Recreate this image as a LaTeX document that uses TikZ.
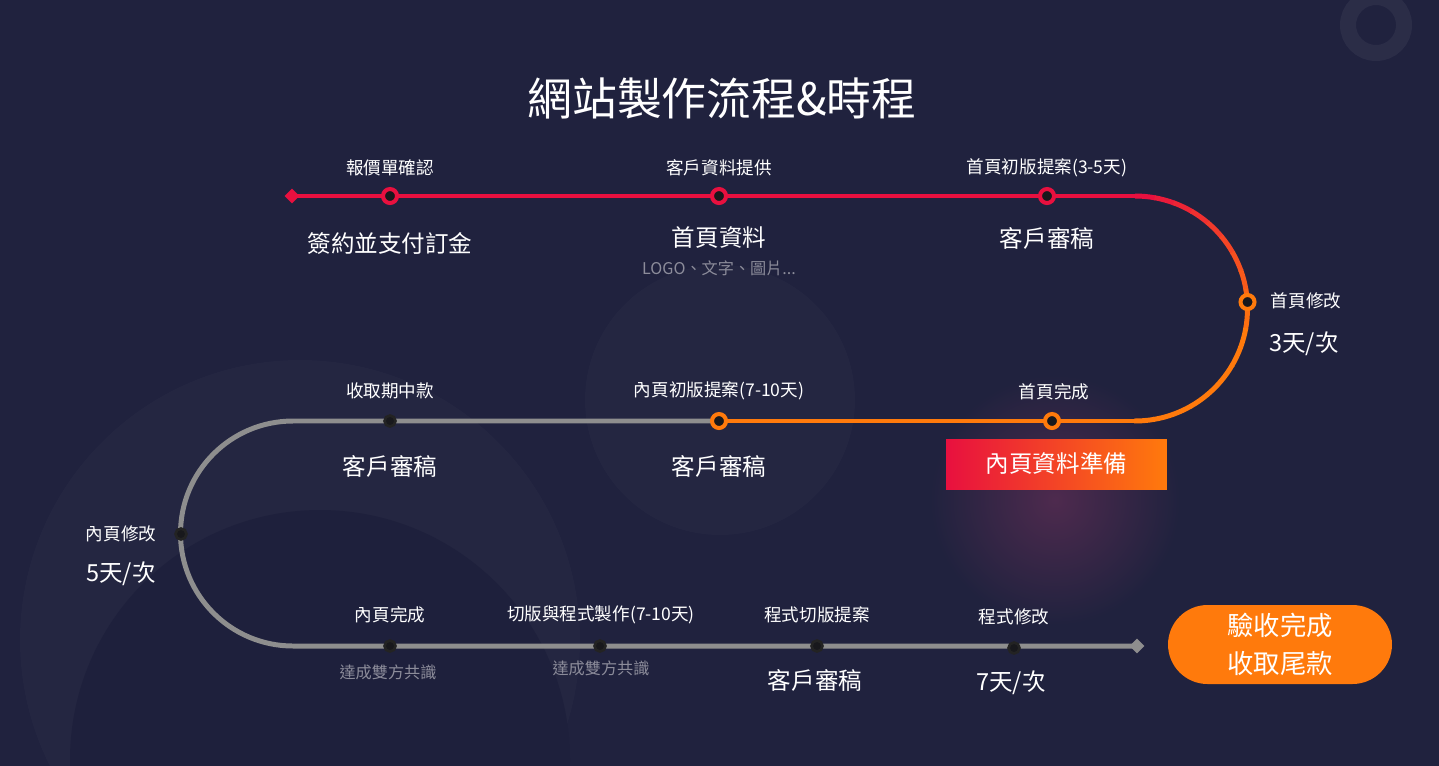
\documentclass[tikz,border=0pt]{standalone}
\usepackage{fontspec}
\setmainfont{Noto Sans CJK TC}
\usetikzlibrary{shapes.geometric}
\definecolor{bgnavy}{HTML}{20223E}
\definecolor{bgdeep}{HTML}{1E203C}
\definecolor{trackred}{HTML}{E8103F}
\definecolor{trackorange}{HTML}{FF7A0C}
\definecolor{trackgray}{HTML}{8E8E8E}
\definecolor{dotdark}{HTML}{18181C}
\definecolor{softgray}{HTML}{8C8C9A}
\definecolor{glowpink}{HTML}{4E2A4E}
\tikzset{
  steplabel/.style={text=white, font=\fontsize{10}{12}\selectfont},
  bignote/.style={text=white, font=\fontsize{13.4}{16}\selectfont},
  smallnote/.style={text=softgray, font=\fontsize{9.2}{11}\selectfont},
  hotdot/.style={circle, fill=dotdark, draw=#1, line width=2.3pt, minimum size=0.28cm, inner sep=0pt},
  colddot/.style={circle, fill=dotdark, draw=black!75!trackgray, line width=1.5pt, minimum size=0.22cm, inner sep=0pt},
  track/.style={line width=2.83pt},
  tip/.style={diamond, fill=#1, minimum size=0.3cm, inner sep=0pt},
}
\begin{document}
\begin{tikzpicture}[x=0.02cm, y=0.02cm]
% background
\useasboundingbox (0,0) rectangle (1439,-765);
\fill[bgnavy] (-20,20) rectangle (1460,-800);
\fill[white, opacity=0.02] (300,-640) circle (280);
\fill[bgdeep] (320,-760) circle (250);
\fill[white, opacity=0.018] (720,-400) circle (135);
\draw[white, opacity=0.05, line width=0.32cm] (1376,-25) circle (28);
\shade[inner color=glowpink, outer color=bgnavy] (1055,-500) circle (125);

% title
\node[text=white, font=\fontsize{25.5}{30}\selectfont] (title) at (722,-98) {網站製作流程\&時程};

% track points
\coordinate (start) at (292,-196);
\coordinate (rturn) at (1135,-196);
\coordinate (rback) at (1135,-421);
\coordinate (mid) at (719,-421);
\coordinate (lturn) at (293,-421);
\coordinate (finish) at (1137,-646);

% track
\draw[track, trackred] (start) -- (rturn);
\foreach \k in {0,...,17} {
  \pgfmathtruncatemacro\mixp{max(0,100-\k*100/10)}
  \draw[track, trackred!\mixp!trackorange] (1135,-308.5) ++(90-10*\k:112.5)
    arc[start angle=90-10*\k, end angle=79.5-10*\k, radius=112.5];
}
\draw[track, trackorange] (rback) -- (mid);
\draw[track, trackgray] (mid) -- (lturn) arc[start angle=90, end angle=270, radius=112.5] -- (finish);
\node[tip=trackred] (startmark) at (start) {};
\node[tip=trackgray] (endmark) at (finish) {};

% row 1
\node[hotdot=trackred] (m1) at (390,-196) {};
\node[hotdot=trackred] (m2) at (719,-196) {};
\node[hotdot=trackred] (m3) at (1047,-196) {};
\node[steplabel] (t1) at (390,-168) {報價單確認};
\node[steplabel] (t2) at (719,-168) {客戶資料提供};
\node[steplabel] (t3) at (1047,-168) {首頁初版提案(3-5天)};
\node[bignote] (b1) at (390,-243) {簽約並支付訂金};
\node[bignote] (b2) at (719,-238) {首頁資料};
\node[smallnote] (s2) at (719,-268) {LOGO、文字、圖片...};
\node[bignote] (b3) at (1047,-238) {客戶審稿};

% right turn
\node[hotdot=trackorange] (m4) at (1247.5,-302) {};
\node[steplabel] (t4) at (1306,-301) {首頁修改};
\node[bignote] (b4) at (1304,-344) {3天/次};

% row 2
\node[hotdot=trackorange] (m5) at (1052,-421) {};
\node[hotdot=trackorange] (m6) at (719,-421) {};
\node[colddot] (m7) at (390,-421) {};
\node[steplabel] (t5) at (1054,-392) {首頁完成};
\node[steplabel] (t6) at (719,-391) {內頁初版提案(7-10天)};
\node[steplabel] (t7) at (390,-391) {收取期中款};
\node[text=white, font=\fontsize{13.4}{16}\selectfont, left color=trackred, right color=trackorange,
  minimum width=4.42cm, minimum height=1cm] (prep) at (1056.5,-464) {內頁資料準備};
\node[bignote] (b6) at (719,-466) {客戶審稿};
\node[bignote] (b7) at (390,-466) {客戶審稿};

% left turn
\node[colddot] (m8) at (181,-534) {};
\node[steplabel] (t8) at (121,-534) {內頁修改};
\node[bignote] (b8) at (121,-574) {5天/次};

% row 3
\node[colddot] (m9) at (390,-646) {};
\node[colddot] (m10) at (600,-646) {};
\node[colddot] (m11) at (817,-646) {};
\node[colddot] (m12) at (1014,-648) {};
\node[steplabel] (t9) at (390,-615) {內頁完成};
\node[steplabel] (t10) at (601,-615) {切版與程式製作(7-10天)};
\node[steplabel] (t11) at (817,-615) {程式切版提案};
\node[steplabel] (t12) at (1014,-617) {程式修改};
\node[smallnote] (s9) at (388,-672) {達成雙方共識};
\node[smallnote] (s10) at (601,-668) {達成雙方共識};
\node[bignote] (b11) at (815,-680) {客戶審稿};
\node[bignote] (b12) at (1011,-683) {7天/次};

% final
\node[fill=trackorange, rounded corners=0.79cm, minimum width=4.48cm, minimum height=1.58cm,
  text=white, align=center, font=\fontsize{15}{21.5}\selectfont] (done) at (1280,-644.5) {驗收完成\\收取尾款};
\end{tikzpicture}
\end{document}
